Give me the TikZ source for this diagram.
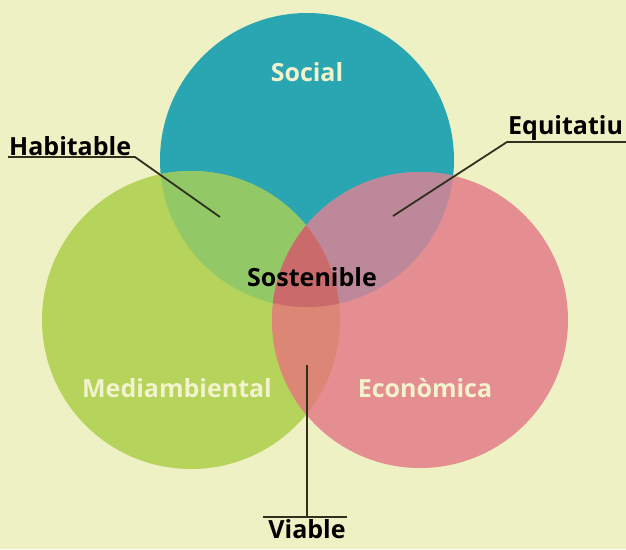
\documentclass[tikz,border=0pt]{standalone}
\usepackage{fontspec}
\setmainfont{Open Sans}
\usepackage{xcolor}
\definecolor{fons}{RGB}{238,241,196}
\definecolor{social}{RGB}{42,166,178}
\definecolor{medi}{RGB}{182,211,92}
\definecolor{econ}{RGB}{228,142,146}
\definecolor{socmedi}{RGB}{146,200,102}
\definecolor{soceco}{RGB}{190,136,155}
\definecolor{mediecon}{RGB}{220,134,118}
\definecolor{tots}{RGB}{202,106,106}
\definecolor{crema}{RGB}{242,242,204}
\definecolor{guia}{RGB}{48,48,30}
\usetikzlibrary{positioning}

\begin{document}
\begin{tikzpicture}[
    x=1pt, y=-1pt,
    cercle/.style={circle, inner sep=0pt},
    nom/.style={font=\bfseries\fontsize{25}{28}\selectfont, text=crema},
    etiq/.style={font=\bfseries\fontsize{25}{28}\selectfont, text=black, inner sep=2pt},
    guialine/.style={draw=guia, line width=1.8pt},
]
\useasboundingbox[fill=fons] (0,0) rectangle (626,549);

% Cercles
\node[cercle, fill=social, minimum size=294pt] (soc) at (307,160) {};
\node[cercle, fill=medi, minimum size=298pt] (med) at (191,320) {};
\node[cercle, fill=econ, minimum size=296pt] (eco) at (420,320) {};

% Interseccions
\begin{scope}
\clip (soc.center) circle (147pt);
\fill[socmedi] (med.center) circle (149pt);
\end{scope}
\begin{scope}
\clip (soc.center) circle (147pt);
\fill[soceco] (eco.center) circle (148pt);
\end{scope}
\begin{scope}
\clip (med.center) circle (149pt);
\fill[mediecon] (eco.center) circle (148pt);
\end{scope}
\begin{scope}
\clip (soc.center) circle (147pt);
\clip (med.center) circle (149pt);
\fill[tots] (eco.center) circle (148pt);
\end{scope}

% Noms dels cercles
\node[nom] (tsoc) at (307,72) {Social};
\node[nom] (tmed) at (177,388) {Mediambiental};
\node[nom] (teco) at (425,388) {Econòmica};
\node[etiq] (sost) at (312,277) {Sostenible};

% Habitable
\coordinate (habl) at (8,157);
\coordinate (habk) at (135,157);
\coordinate (habe) at (220,217);
\node[etiq, anchor=south west, inner sep=1pt] (hab) at (habl) {Habitable};
\draw[guialine] (habl) -- (habk) -- (habe);

% Equitatiu
\coordinate (equk) at (507,142);
\coordinate (equr) at (626,142);
\coordinate (eque) at (393,216);
\node[etiq, anchor=south west, inner sep=1pt] (equ) at (equk) {Equitatiu};
\draw[guialine] (equr) -- (equk) -- (eque);

% Viable
\coordinate (viat) at (307,365);
\coordinate (viak) at (307,517);
\coordinate (vial) at (263,517);
\coordinate (viar) at (347,517);
\node[etiq, below=0pt of viak] (via) {Viable};
\draw[guialine] (viat) -- (viak);
\draw[guialine] (vial) -- (viar);

\end{tikzpicture}
\end{document}
